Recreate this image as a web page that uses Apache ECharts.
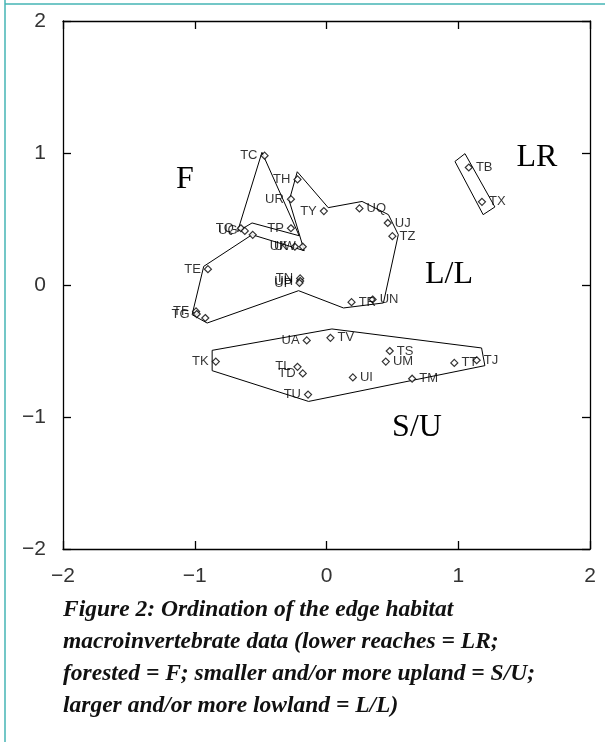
<!DOCTYPE html>
<html>
<head>
<meta charset="utf-8">
<script src="https://cdn.jsdelivr.net/npm/echarts@6/dist/echarts.min.js"></script>
<style>
  html, body { margin: 0; padding: 0; background: #fff; }
  #chart { width: 605px; height: 742px; }
</style>
</head>
<body>
<div id="chart"></div>
<script>
// site scores
const siteNames = ['TC', 'TH', 'UR', 'TY', 'TQ', 'UG', '', 'TP', 'UK', 'UW', 'TE', 'TN', 'UH', 'UP',
  'TF', 'TG', '', 'TR', 'UN', 'UQ', 'UJ', 'TZ', 'TK', 'UA', 'TV', 'TL', 'TD', 'TU', 'UI',
  'TS', 'UM', 'TM', 'TT', 'TJ', 'TB', 'TX']
const siteX = [-0.47, -0.22, -0.27, -0.02, -0.65, -0.62, -0.56, -0.27, -0.24, -0.18, -0.90, -0.20, -0.20, -0.205,
  -0.99, -0.985, -0.92, 0.19, 0.35, 0.25, 0.465, 0.50, -0.84, -0.15, 0.03, -0.22, -0.18, -0.14, 0.20,
  0.48, 0.45, 0.65, 0.97, 1.14, 1.08, 1.18]
const siteY = [0.98, 0.80, 0.65, 0.56, 0.43, 0.41, 0.38, 0.43, 0.29, 0.29, 0.12, 0.05, 0.03, 0.015,
  -0.20, -0.22, -0.25, -0.13, -0.11, 0.58, 0.47, 0.37, -0.58, -0.42, -0.40, -0.62, -0.67, -0.83, -0.70,
  -0.50, -0.58, -0.71, -0.59, -0.57, 0.89, 0.63]
const labelSide = ['left', 'left', 'left', 'left', 'left', 'left', 'left', 'left', 'left', 'left', 'left', 'left', 'left', 'left',
  'left', 'left', 'right', 'right', 'right', 'right', 'right', 'right', 'left', 'left', 'right', 'left', 'left', 'left', 'right',
  'right', 'right', 'right', 'right', 'right', 'right', 'right']

// hand drawn group outlines
const fPoly = [[-0.49, 1.005], [-0.675, 0.405], [-0.565, 0.47], [-0.207, 0.373]]
const llPoly = [[-0.222, 0.858], [0.013, 0.586], [0.27, 0.633], [0.47, 0.533], [0.545, 0.381], [0.432, -0.136],
  [0.129, -0.174], [-0.212, -0.043], [-0.906, -0.288], [-1.02, -0.225], [-0.932, 0.141], [-0.565, 0.381],
  [-0.169, 0.26], [-0.283, 0.639]]
const suPoly = [[-0.868, -0.495], [0.041, -0.333], [1.177, -0.477], [1.202, -0.611], [-0.136, -0.882], [-0.868, -0.649]]
const lrPoly = [[0.975, 0.936], [1.051, 0.995], [1.278, 0.591], [1.189, 0.533]]

const axisTicks = [-2, -1, 0, 1, 2]

const groupNames = ['F', 'LR', 'L/L', 'S/U']
const groupAt = [[185, 180], [537, 158], [449, 275], [417, 428]]

const caption = [
  'Figure 2: Ordination of the edge habitat',
  'macroinvertebrate data (lower reaches = LR;',
  'forested = F; smaller and/or more upland = S/U;',
  'larger and/or more lowland = L/L)'
]

const chart = echarts.init(document.getElementById('chart'))

const minus = v => String(v).replace('-', '\u2212')

const makeAxis = (pos, labels) => ({
  type: 'value',
  min: axisTicks[0],
  max: axisTicks[axisTicks.length - 1],
  interval: 1,
  position: pos,
  axisLine: { show: true, onZero: false, lineStyle: { color: '#000', width: 1.3 } },
  axisTick: { show: true, inside: true, length: 8, lineStyle: { color: '#000', width: 1.3 } },
  axisLabel: {
    show: labels,
    margin: 17,
    fontSize: 21,
    color: '#333',
    fontFamily: 'Liberation Sans',
    formatter: minus
  },
  splitLine: { show: false }
})

const outline = pts => ({
  type: 'line',
  data: pts.concat([pts[0]]),
  symbol: 'none',
  silent: true,
  lineStyle: { color: '#000', width: 1 },
  z: 1
})

const sites = siteNames.map((n, i) => ({
  name: n,
  value: [siteX[i], siteY[i]],
  label: { position: labelSide[i] }
}))

const graphics = []
graphics.push({ type: 'line', shape: { x1: 5, y1: 0, x2: 5, y2: 742 }, style: { stroke: '#45b5b5', lineWidth: 1.5 } })
graphics.push({ type: 'line', shape: { x1: 5, y1: 4, x2: 605, y2: 4 }, style: { stroke: '#45b5b5', lineWidth: 1.5 } })
groupNames.forEach((g, i) => {
  graphics.push({
    type: 'text',
    x: groupAt[i][0],
    y: groupAt[i][1],
    style: {
      text: g,
      font: '32px "Liberation Serif"',
      fill: '#000',
      align: 'center',
      verticalAlign: 'middle'
    }
  })
})
caption.forEach((line, i) => {
  graphics.push({
    type: 'text',
    left: 63,
    top: 598 + i * 32.3,
    style: {
      text: line,
      font: 'italic bold 23.5px "Liberation Serif"',
      fill: '#111'
    }
  })
})

const option = {
  animation: false,
  grid: { left: 63, top: 21, width: 527, height: 528 },
  xAxis: [makeAxis('bottom', true), makeAxis('top', false)],
  yAxis: [makeAxis('left', true), makeAxis('right', false)],
  series: [
    outline(fPoly),
    outline(llPoly),
    outline(suPoly),
    outline(lrPoly),
    {
      type: 'scatter',
      data: sites,
      symbol: 'diamond',
      symbolSize: 7,
      itemStyle: { color: '#fff', borderColor: '#000', borderWidth: 1.2 },
      label: {
        show: true,
        formatter: p => p.name,
        fontSize: 13,
        color: '#000',
        fontFamily: 'Liberation Sans',
        distance: 3
      },
      z: 3
    }
  ],
  graphic: graphics
}

chart.setOption(option)
</script>
</body>
</html>
